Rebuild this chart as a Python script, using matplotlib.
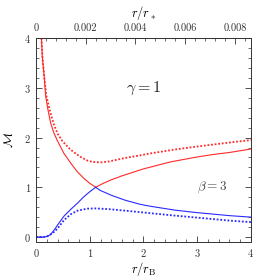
import matplotlib
matplotlib.use('Agg')
import matplotlib.pyplot as plt
from matplotlib.ticker import MultipleLocator, FixedLocator, FuncFormatter

plt.rcParams['font.family'] = 'serif'
plt.rcParams['font.serif'] = ['cmr10', 'DejaVu Serif']
plt.rcParams['mathtext.fontset'] = 'cm'
plt.rcParams['axes.formatter.use_mathtext'] = True

# Data
# red solid, falling branch down to the sonic point
red_fall_x = [0.10, 0.117, 0.15, 0.18, 0.22, 0.27, 0.33, 0.40, 0.52, 0.65, 0.77, 0.89, 1.0, 1.11]
red_fall_y = [4.0, 3.63, 3.24, 2.83, 2.57, 2.30, 2.10, 1.93, 1.68, 1.48, 1.31, 1.18, 1.08, 1.0]
# red solid, rising branch after the sonic point
red_rise_x = [1.11, 1.25, 1.4, 1.6, 1.8, 2.0, 2.25, 2.5, 2.75, 3.0, 3.3, 3.6, 4.0]
red_rise_y = [1.0, 1.08, 1.15, 1.23, 1.30, 1.37, 1.44, 1.51, 1.56, 1.61, 1.66, 1.70, 1.77]
# blue solid, rising branch
blue_rise_x = [0.0, 0.1, 0.18, 0.22, 0.27, 0.33, 0.40, 0.52, 0.65, 0.77, 0.89, 1.0, 1.11]
blue_rise_y = [0.0, 0.0, 0.005, 0.02, 0.05, 0.13, 0.24, 0.42, 0.56, 0.68, 0.81, 0.91, 1.0]
# blue solid, falling branch
blue_fall_x = [1.11, 1.19, 1.4, 1.66, 1.93, 2.12, 2.59, 3.0, 3.3, 3.6, 4.0]
blue_fall_y = [1.0, 0.94, 0.84, 0.74, 0.66, 0.62, 0.54, 0.49, 0.46, 0.43, 0.40]
# dotted curves
red_dot_x = [0.10, 0.12, 0.155, 0.19, 0.25, 0.32, 0.40, 0.49, 0.55, 0.63, 0.71, 0.83, 0.95, 1.05,
             1.2, 1.36, 1.66, 1.93, 2.12, 2.59, 3.0, 3.3, 3.6, 4.0]
red_dot_y = [4.0, 3.6, 3.2, 2.85, 2.57, 2.30, 2.08, 1.93, 1.86, 1.77, 1.70, 1.61, 1.54, 1.51,
             1.50, 1.52, 1.59, 1.64, 1.68, 1.76, 1.82, 1.86, 1.90, 1.95]
blue_dot_x = [0.0, 0.15, 0.2, 0.27, 0.33, 0.40, 0.52, 0.65, 0.77, 0.95, 1.1, 1.2, 1.36, 1.66,
              2.12, 2.59, 3.0, 3.3, 3.6, 4.0]
blue_dot_y = [0.0, 0.0, 0.01, 0.05, 0.10, 0.17, 0.34, 0.46, 0.53, 0.57, 0.575, 0.57, 0.56, 0.53,
              0.48, 0.43, 0.39, 0.36, 0.33, 0.30]

top_ticks = [0, 0.002, 0.004, 0.006, 0.008]
rB_over_rstar = 0.002161

fig = plt.figure(figsize=(2.71, 2.78), dpi=100)
ax = fig.add_axes([0.133, 0.1295, 0.793, 0.7335])

red = '#ff2a2a'
blue = '#2a2aff'
ax.plot(red_fall_x, red_fall_y, color=red, lw=0.8)
ax.plot(red_rise_x, red_rise_y, color=red, lw=0.8)
ax.plot(blue_rise_x, blue_rise_y, color=blue, lw=0.8)
ax.plot(blue_fall_x, blue_fall_y, color=blue, lw=0.8)
ax.plot(red_dot_x, red_dot_y, color=red, lw=1.3, ls=(0, (1, 1)))
ax.plot(blue_dot_x, blue_dot_y, color=blue, lw=1.3, ls=(0, (1, 1)))

ax.set_xlim(0, 4)
ax.set_ylim(-0.1, 4)
ax.xaxis.set_major_locator(MultipleLocator(1))
ax.xaxis.set_minor_locator(MultipleLocator(0.2))
ax.yaxis.set_major_locator(MultipleLocator(1))
ax.yaxis.set_minor_locator(MultipleLocator(0.2))
ax.tick_params(which='both', direction='in', right=True, labelsize=7.5, colors='#333333')
ax.tick_params(which='major', length=4, width=0.6)
ax.tick_params(which='minor', length=2, width=0.5)
for s in ax.spines.values():
    s.set_linewidth(0.7)
    s.set_color('#333333')

ax.set_xlabel(r'$r/r_{\rm B}$', fontsize=9, labelpad=1)
ax.set_ylabel(r'$\mathcal{M}$', fontsize=9, labelpad=6)

top = ax.secondary_xaxis('top', functions=(lambda x: x * rB_over_rstar, lambda x: x / rB_over_rstar))
top.xaxis.set_major_locator(FixedLocator(top_ticks))
top.xaxis.set_minor_locator(FixedLocator([i * 0.0004 for i in range(22) if i % 5]))
top.xaxis.set_major_formatter(FuncFormatter(lambda v, p: '0' if abs(v) < 1e-9 else f'{v:.3f}'))
top.tick_params(which='both', direction='in', labelsize=7.5, colors='#333333')
top.tick_params(which='major', length=4, width=0.6)
top.tick_params(which='minor', length=2, width=0.5)
top.spines['top'].set_linewidth(0.7)
top.spines['top'].set_color('#333333')
top.set_xlabel(r'$r/r_*$', fontsize=9, labelpad=4.5)

ax.text(2.0, 3.0, r'$\gamma = 1$', fontsize=11.5, ha='center', va='center', color='#222222')
ax.text(3.27, 0.99, r'$\beta = 3$', fontsize=9.5, ha='center', va='center', color='#444444')

fig.savefig('out.png', dpi=100)
